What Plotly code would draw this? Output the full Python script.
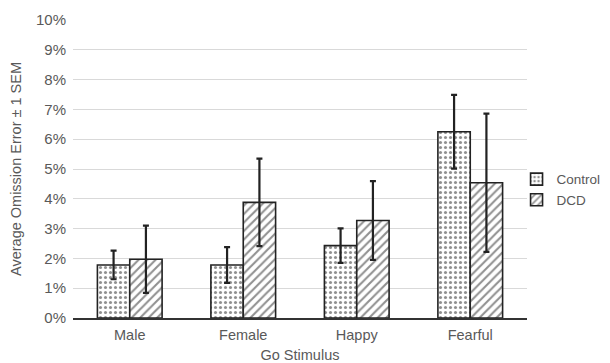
import plotly.graph_objects as go

# Omission error by go stimulus, mean ± 1 SEM (percent)
categories = ["Male", "Female", "Happy", "Fearful"]
control_mean = [1.78, 1.78, 2.43, 6.25]
control_sem = [0.48, 0.60, 0.58, 1.24]
dcd_mean = [1.97, 3.88, 3.27, 4.54]
dcd_sem = [1.13, 1.47, 1.32, 2.32]
y_ticks = list(range(0, 11))
y_tick_labels = [f"{t}%" for t in y_ticks]

GRAY = "#595959"
FONT = "Liberation Sans, Arial, sans-serif"
EDGE = "#222222"

fig = go.Figure()
fig.add_trace(go.Bar(
    name="Control", x=categories, y=control_mean,
    marker=dict(color="white", line=dict(color=EDGE, width=1.6),
                pattern=dict(shape=".", fgcolor=EDGE, bgcolor="white",
                             size=5, solidity=0.3)),
    error_y=dict(type="data", array=control_sem, color=EDGE,
                 thickness=2.2, width=3),
))
fig.add_trace(go.Bar(
    name="DCD", x=categories, y=dcd_mean,
    marker=dict(color="white", line=dict(color=EDGE, width=1.6),
                pattern=dict(shape="/", fgcolor=EDGE, bgcolor="white",
                             size=6, solidity=0.35)),
    error_y=dict(type="data", array=dcd_sem, color=EDGE,
                 thickness=2.2, width=3),
))

fig.update_layout(
    width=610, height=363,
    margin=dict(l=73, r=83, t=20, b=45, autoexpand=False),
    paper_bgcolor="white", plot_bgcolor="white",
    barmode="group", bargap=0.43, bargroupgap=0,
    font=dict(family=FONT, size=14.5, color=GRAY),
    legend=dict(x=0.977, y=0.43, xanchor="left", yanchor="middle",
                font=dict(size=13.5, color=GRAY), tracegroupgap=0,
                itemwidth=30, bgcolor="rgba(0,0,0,0)"),
    xaxis=dict(showline=True, linecolor="#333333", linewidth=1.5,
               ticks="", ticklabelstandoff=3,
               tickfont=dict(size=14.5, color=GRAY),
               title=dict(text="Go Stimulus", font=dict(size=14.5, color=GRAY),
                          standoff=11)),
    yaxis=dict(range=[0, 10], tickvals=y_ticks, ticktext=y_tick_labels,
               showgrid=True, gridcolor="#d9d9d9", gridwidth=1,
               zeroline=False, ticks="", ticklabelstandoff=6,
               tickfont=dict(size=15, color=GRAY),
               title=dict(text="Average Omission Error ± 1 SEM",
                          font=dict(size=14.5, color=GRAY), standoff=10)),
)

fig.write_html("out.html")
